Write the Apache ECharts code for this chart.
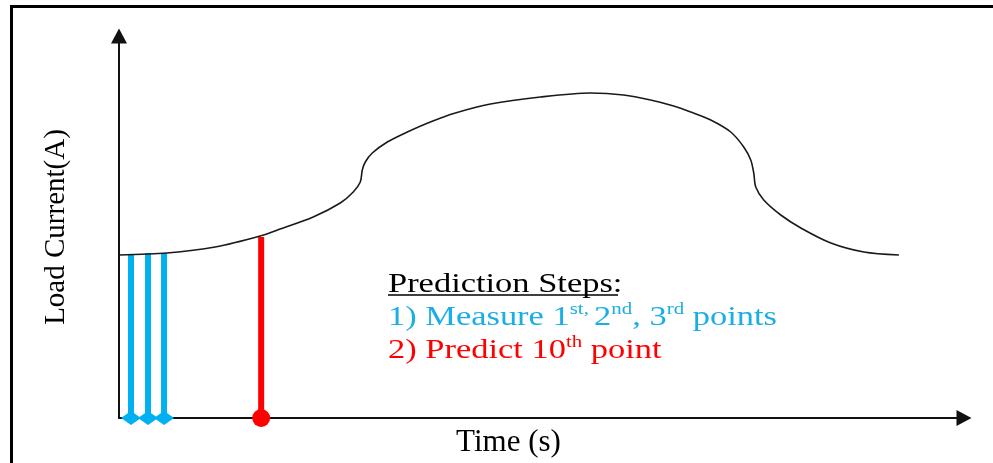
<!DOCTYPE html>
<html>
<head>
<meta charset="utf-8">
<script src="https://cdn.jsdelivr.net/npm/echarts@6/dist/echarts.min.js"></script>
<style>
html,body{margin:0;padding:0;background:#fff;}
#chart{width:993px;height:463px;}
</style>
</head>
<body>
<div id="chart"></div>
<script>
// Load curve (schematic), time in arbitrary units, load in arbitrary units
const curveTime = [0, 48, 96, 141, 161, 194, 221, 234, 241, 243, 246, 253, 268, 288, 311, 336, 371, 421, 471, 504, 531, 554, 571, 591, 611, 624, 631, 634, 636, 644, 661, 681, 711, 744, 779];
const curveLoad = [163, 165, 171, 182, 189, 201, 215, 226, 236, 248, 256, 265, 276, 286, 296, 305, 314, 321, 325, 323, 318, 312, 306, 298, 286, 271, 258, 245, 231, 218, 203, 190, 175, 166, 163];

// Measured points (1st, 2nd, 3rd)
const measureTime = [12, 29, 45];
const measureLoad = [164, 165, 165];

// Predicted point (10th)
const predictTime = [142];
const predictLoad = [181];

const xLabel = 'Time (s)';
const yLabel = 'Load Current(A)';

const BLUE = '#00B0F0';
const RED = '#FF0000';
const SERIF = 'Liberation Serif';

const chart = echarts.init(document.getElementById('chart'), null, {renderer: 'canvas'});

const series = [{
  type: 'line',
  name: 'Load',
  data: curveTime.map((t, i) => [t, curveLoad[i]]),
  smooth: 0.3,
  symbol: 'none',
  lineStyle: {color: '#1a1a1a', width: 1.6},
  z: 3,
  silent: true
}];

measureTime.forEach((t, i) => {
  series.push({
    type: 'line',
    name: 'Measure ' + (i + 1),
    data: [
      {value: [t, 0], symbol: 'diamond', symbolSize: [20, 14]},
      {value: [t, measureLoad[i]], symbol: 'none'}
    ],
    showSymbol: true,
    lineStyle: {color: BLUE, width: 6},
    itemStyle: {color: BLUE, borderWidth: 0},
    z: 2,
    silent: true
  });
});

predictTime.forEach((t, i) => {
  series.push({
    type: 'line',
    name: 'Predict',
    data: [
      {value: [t, 0], symbol: 'circle', symbolSize: 18},
      {value: [t, predictLoad[i]], symbol: 'none'}
    ],
    showSymbol: true,
    lineStyle: {color: RED, width: 6},
    itemStyle: {color: RED, borderWidth: 0},
    z: 2,
    silent: true
  });
});

const axisCommon = {
  type: 'value',
  min: 0,
  axisTick: {show: false},
  axisLabel: {show: false},
  splitLine: {show: false},
  nameLocation: 'middle',
  axisLine: {
    show: true,
    onZero: false,
    symbol: ['none', 'triangle'],
    symbolSize: [16, 15],
    lineStyle: {color: '#111', width: 2}
  }
};

const option = {
  backgroundColor: '#fff',
  animation: false,
  grid: {left: 119, right: 29, top: 36, bottom: 45},
  xAxis: Object.assign({}, axisCommon, {
    max: 844,
    name: xLabel,
    nameGap: 9,
    nameTextStyle: {fontFamily: SERIF, fontSize: 31, color: '#000', padding: [0, 66, 0, 0]}
  }),
  yAxis: Object.assign({}, axisCommon, {
    max: 382,
    name: yLabel,
    nameGap: 48,
    nameTextStyle: {fontFamily: SERIF, fontSize: 29, color: '#000'}
  }),
  series: series,
  graphic: [
    {
      type: 'rect',
      silent: true,
      shape: {x: 11.5, y: 6.5, width: 1200, height: 800},
      style: {fill: 'none', stroke: '#000', lineWidth: 3},
      z: 10
    },
    {
      type: 'group',
      x: 388,
      y: 0,
      scaleX: 1.23,
      silent: true,
      children: [
        {
          type: 'text',
          x: 0,
          y: 268,
          style: {
            text: '{h|Prediction Steps:}\n{b|1) Measure 1}{bs|st, }{b|2}{bs|nd}{b|, 3}{bs|rd}{b| points}\n{r|2) Predict 10}{rs|th}{r| point}',
            fontFamily: SERIF,
            fontSize: 28,
            verticalAlign: 'top',
            align: 'left',
            rich: {
              h: {fontFamily: SERIF, fontSize: 28, fill: '#000', lineHeight: 33},
              b: {fontFamily: SERIF, fontSize: 28, fill: '#1BAEE6', lineHeight: 33},
              bs: {fontFamily: SERIF, fontSize: 17, fill: '#1BAEE6', lineHeight: 22, verticalAlign: 'top'},
              r: {fontFamily: SERIF, fontSize: 28, fill: RED, lineHeight: 33},
              rs: {fontFamily: SERIF, fontSize: 17, fill: RED, lineHeight: 22, verticalAlign: 'top'}
            }
          }
        },
        {
          type: 'line',
          shape: {x1: 0, y1: 295, x2: 187, y2: 295},
          style: {stroke: '#000', lineWidth: 1.5}
        }
      ]
    }
  ]
};

chart.setOption(option);
</script>
</body>
</html>
